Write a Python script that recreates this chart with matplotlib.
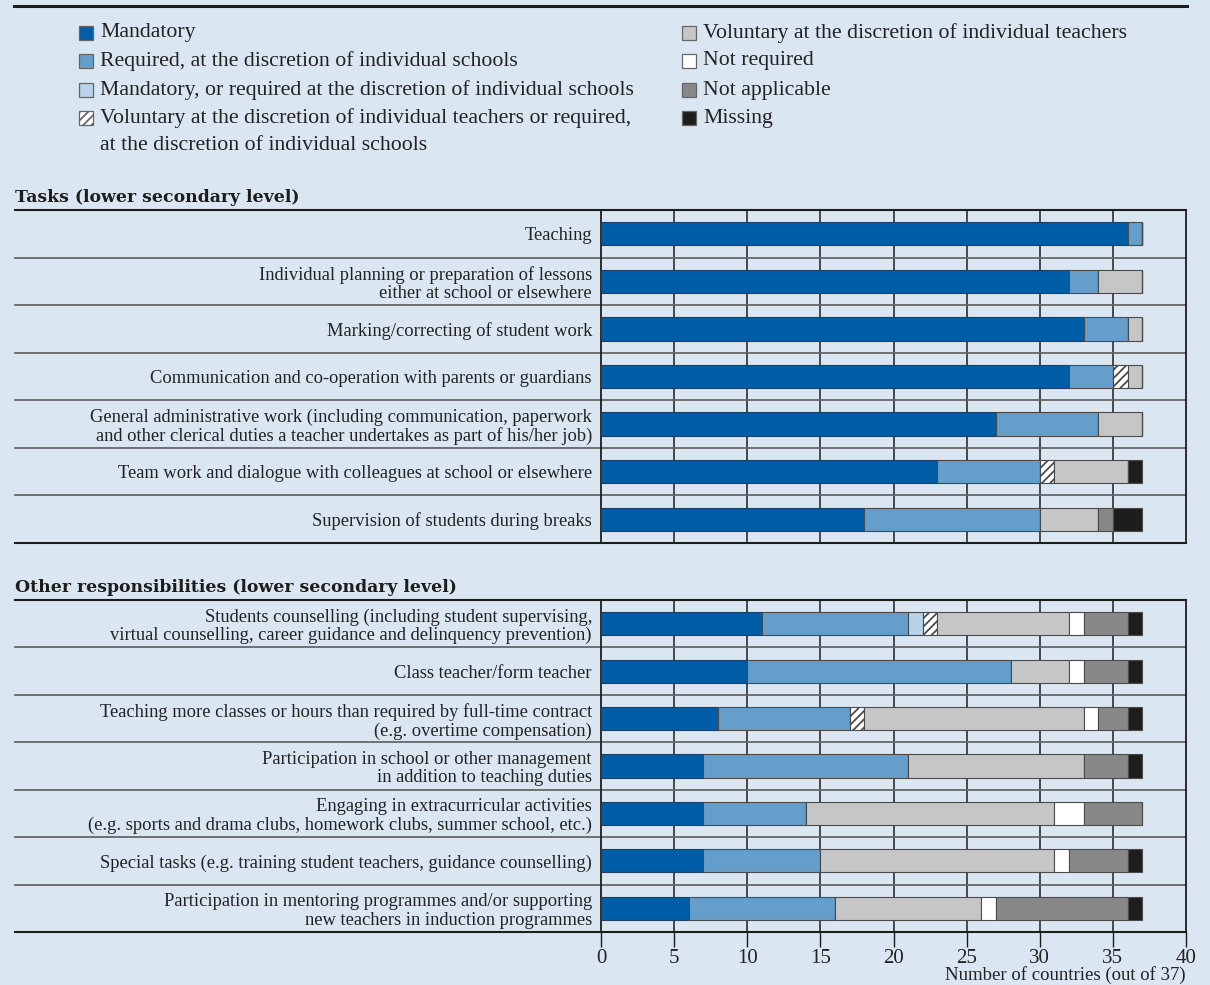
import numpy as np
import matplotlib
matplotlib.use("Agg")
import matplotlib.pyplot as plt
from matplotlib.patches import Rectangle
from matplotlib.lines import Line2D

plt.rcParams['font.family'] = ['Liberation Serif', 'DejaVu Serif']
plt.rcParams['hatch.linewidth'] = 1.3

# categories (legend order)
categories = [
    "Mandatory",
    "Required, at the discretion of individual schools",
    "Mandatory, or required at the discretion of individual schools",
    "Voluntary at the discretion of individual teachers or required,\nat the discretion of individual schools",
    "Voluntary at the discretion of individual teachers",
    "Not required",
    "Not applicable",
    "Missing",
]
cat_colors = ['#005ea8', '#669ecb', '#b8d2e8', '#ffffff', '#c6c6c6', '#ffffff', '#888888', '#1d1d1b']
cat_hatch = [None, None, None, '////', None, None, None, None]

# panel 1: tasks
task_labels = [
    "Teaching",
    "Individual planning or preparation of lessons\neither at school or elsewhere",
    "Marking/correcting of student work",
    "Communication and co-operation with parents or guardians",
    "General administrative work (including communication, paperwork\nand other clerical duties a teacher undertakes as part of his/her job)",
    "Team work and dialogue with colleagues at school or elsewhere",
    "Supervision of students during breaks",
]
task_mandatory = [36, 32, 33, 32, 27, 23, 18]
task_required = [1, 2, 3, 3, 7, 7, 12]
task_mand_or_req = [0, 0, 0, 0, 0, 0, 0]
task_vol_or_req = [0, 0, 0, 1, 0, 1, 0]
task_voluntary = [0, 3, 1, 1, 3, 5, 4]
task_not_required = [0, 0, 0, 0, 0, 0, 0]
task_not_applicable = [0, 0, 0, 0, 0, 0, 1]
task_missing = [0, 0, 0, 0, 0, 1, 2]

# panel 2: other responsibilities
other_labels = [
    "Students counselling (including student supervising,\nvirtual counselling, career guidance and delinquency prevention)",
    "Class teacher/form teacher",
    "Teaching more classes or hours than required by full-time contract\n(e.g. overtime compensation)",
    "Participation in school or other management\nin addition to teaching duties",
    "Engaging in extracurricular activities\n(e.g. sports and drama clubs, homework clubs, summer school, etc.)",
    "Special tasks (e.g. training student teachers, guidance counselling)",
    "Participation in mentoring programmes and/or supporting\nnew teachers in induction programmes",
]
other_mandatory = [11, 10, 8, 7, 7, 7, 6]
other_required = [10, 18, 9, 14, 7, 8, 10]
other_mand_or_req = [1, 0, 0, 0, 0, 0, 0]
other_vol_or_req = [1, 0, 1, 0, 0, 0, 0]
other_voluntary = [9, 4, 15, 12, 17, 16, 10]
other_not_required = [1, 1, 1, 0, 2, 1, 1]
other_not_applicable = [3, 3, 2, 3, 4, 4, 9]
other_missing = [1, 1, 1, 1, 0, 1, 1]

x_ticks = [0, 5, 10, 15, 20, 25, 30, 35, 40]
x_label = "Number of countries (out of 37)"

BG = '#dae6f1'
TXT = '#222222'
W, H = 1210, 985
fig = plt.figure(figsize=(W / 100, H / 100), dpi=100, facecolor=BG)


def fx(px):
    return px / W


def fy(py):
    return 1 - py / H


# top rule (title is cut off above it)
fig.add_artist(Line2D([fx(14), fx(1187)], [fy(6), fy(6)], color='#1d1d1b', lw=2.2))


# legend, drawn by hand in two columns
def legend_item(x, y, i):
    fig.add_artist(Rectangle((fx(x), fy(y + 7)), 14 / W, 14 / H, facecolor=cat_colors[i],
                             edgecolor='#666666', lw=0.9, hatch=cat_hatch[i]))
    lines = categories[i].split('\n')
    for j, line in enumerate(lines):
        fig.text(fx(x + 21), fy(y + 28 * j), line, fontsize=15.7, va='center', ha='left', color=TXT)

leg_rows = [33, 61, 90, 118]
for k in range(4):
    legend_item(79, leg_rows[k], k)
    legend_item(682, leg_rows[k], k + 4)


def panel(top, bottom, title, labels, series, show_x):
    ax = fig.add_axes([fx(601), fy(bottom), fx(1186) - fx(601), (bottom - top) / H])
    ax.set_facecolor('none')
    n = len(labels)
    y = np.arange(n)
    left = np.zeros(n)
    for i, vals in enumerate(series):
        vals = np.array(vals, dtype=float)
        ax.barh(y, vals, left=left, height=0.49, color=cat_colors[i], hatch=cat_hatch[i],
                edgecolor='#4a4a4a' if i != 0 else '#1f3f63', linewidth=0.8, zorder=3)
        left += vals
    ax.set_xlim(0, 40)
    ax.set_ylim(n - 0.5, -0.5)
    for xv in x_ticks[1:-1]:
        ax.axvline(xv, color='#1d1d1b', lw=1.1, zorder=1)
    # row separators run across the label area too
    for k in range(1, n):
        ax.axhline(k - 0.5, xmin=-1.0017, xmax=1, color='#666666', lw=1.3, clip_on=False, zorder=2)
    ax.axhline(-0.5, xmin=-1.0017, xmax=1, color='#1d1d1b', lw=1.5, clip_on=False, zorder=2)
    ax.axhline(n - 0.5, xmin=-1.0017, xmax=1, color='#1d1d1b', lw=1.5, clip_on=False, zorder=2)
    for s in ['top', 'bottom']:
        ax.spines[s].set_visible(False)
    for s in ['left', 'right']:
        ax.spines[s].set_color('#1d1d1b')
        ax.spines[s].set_linewidth(1.3)
    ax.set_yticks(y)
    ax.set_yticklabels(labels, fontsize=13.3, color=TXT)
    for t in ax.get_yticklabels():
        t.set_linespacing(1.1)
    ax.tick_params(axis='y', length=0, pad=6.5)
    if show_x:
        ax.set_xticks(x_ticks)
        ax.set_xticklabels([str(v) for v in x_ticks], fontsize=15, color=TXT)
        ax.tick_params(axis='x', length=11, width=1.0, color='#1d1d1b', pad=1)
        ax.set_xlabel(x_label, fontsize=13.5, color=TXT, loc='right', labelpad=-1)
    else:
        ax.set_xticks([])
    fig.text(fx(15), fy(top - 12), title, fontsize=12.4, fontweight='bold',
             family='DejaVu Serif', color='#1d1d1b', va='center')
    return ax


panel(210, 543, "Tasks (lower secondary level)", task_labels,
      [task_mandatory, task_required, task_mand_or_req, task_vol_or_req,
       task_voluntary, task_not_required, task_not_applicable, task_missing], False)
panel(600, 932, "Other responsibilities (lower secondary level)", other_labels,
      [other_mandatory, other_required, other_mand_or_req, other_vol_or_req,
       other_voluntary, other_not_required, other_not_applicable, other_missing], True)

fig.savefig("out.png", dpi=100, facecolor=BG)
